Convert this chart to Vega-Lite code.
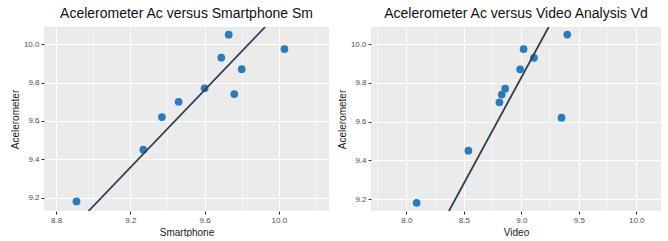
{
  "$schema": "https://vega.github.io/schema/vega-lite/v6.json",
  "background": "white",
  "padding": {"left": 10, "top": 6, "right": 10, "bottom": 0},
  "spacing": 8,
  "datasets": {
    "pts": [
      {"Ac": 9.18, "Sm": 8.91, "Vd": 8.09},
      {"Ac": 9.45, "Sm": 9.27, "Vd": 8.54},
      {"Ac": 9.62, "Sm": 9.37, "Vd": 9.35},
      {"Ac": 9.70, "Sm": 9.46, "Vd": 8.81},
      {"Ac": 9.74, "Sm": 9.76, "Vd": 8.83},
      {"Ac": 9.77, "Sm": 9.60, "Vd": 8.86},
      {"Ac": 9.87, "Sm": 9.80, "Vd": 8.99},
      {"Ac": 9.93, "Sm": 9.69, "Vd": 9.11},
      {"Ac": 9.975, "Sm": 10.03, "Vd": 9.02},
      {"Ac": 10.05, "Sm": 9.73, "Vd": 9.40}
    ],
    "lineSm": [
      {"x": 8.975, "y": 9.13},
      {"x": 9.926, "y": 10.09}
    ],
    "lineVd": [
      {"x": 8.371, "y": 9.138},
      {"x": 9.238, "y": 10.089}
    ],
    "minorVd": [
      {"v": 7.75}, {"v": 8.25}, {"v": 8.75}, {"v": 9.25}, {"v": 9.75}
    ]
  },
  "config": {
    "font": "Liberation Sans",
    "view": {"fill": "#EBEBEB", "stroke": null},
    "axis": {
      "domain": false,
      "gridColor": "white",
      "labelColor": "#4D4D4D",
      "labelFontSize": 8,
      "labelPadding": 2,
      "labelOverlap": false,
      "tickSize": 3,
      "titleFontSize": 10,
      "titleFontWeight": "normal",
      "titleColor": "#1a1a1a"
    },
    "title": {"fontSize": 14, "fontWeight": "normal", "color": "#111", "offset": 6}
  },
  "hconcat": [
    {
      "title": "Acelerometer Ac versus Smartphone Sm",
      "width": 285,
      "height": 184,
      "layer": [
        {
          "data": {"name": "pts"},
          "mark": {"type": "circle", "size": 60, "opacity": 1, "color": "#2B7BBA"},
          "encoding": {
            "x": {
              "field": "Sm", "type": "quantitative", "title": "Smartphone",
              "scale": {"domain": [8.735, 10.27], "nice": false, "zero": false},
              "axis": {
                "values": [8.8, 9.0, 9.2, 9.4, 9.6, 9.8, 10.0, 10.2],
                "labelExpr": "indexof([8.8, 9.2, 9.6, 10], datum.value) >= 0 ? format(datum.value, '.1f') : ''",
                "gridWidth": {"condition": {"test": "indexof([8.8, 9.2, 9.6, 10], datum.value) >= 0", "value": 1.1}, "value": 0.5},
                "tickColor": {"condition": {"test": "indexof([8.8, 9.2, 9.6, 10], datum.value) >= 0", "value": "#333333"}, "value": "transparent"},
                "titlePadding": 3
              }
            },
            "y": {
              "field": "Ac", "type": "quantitative", "title": "Acelerometer",
              "scale": {"domain": [9.13, 10.09], "nice": false, "zero": false},
              "axis": {
                "values": [9.2, 9.3, 9.4, 9.5, 9.6, 9.7, 9.8, 9.9, 10.0],
                "labelExpr": "indexof([9.2, 9.4, 9.6, 9.8, 10], datum.value) >= 0 ? format(datum.value, '.1f') : ''",
                "gridWidth": {"condition": {"test": "indexof([9.2, 9.4, 9.6, 9.8, 10], datum.value) >= 0", "value": 1.1}, "value": 0.5},
                "tickColor": {"condition": {"test": "indexof([9.2, 9.4, 9.6, 9.8, 10], datum.value) >= 0", "value": "#333333"}, "value": "transparent"},
                "titlePadding": 3
              }
            }
          }
        },
        {
          "data": {"name": "lineSm"},
          "mark": {"type": "line", "color": "#2C3E50", "strokeWidth": 1.8, "clip": true},
          "encoding": {
            "x": {"field": "x", "type": "quantitative"},
            "y": {"field": "y", "type": "quantitative"}
          }
        }
      ]
    },
    {
      "title": "Acelerometer Ac versus Video Analysis Vd",
      "width": 290,
      "height": 184,
      "layer": [
        {
          "data": {"name": "minorVd"},
          "mark": {"type": "rule", "color": "white", "strokeWidth": 0.5},
          "encoding": {
            "x": {"field": "v", "type": "quantitative"}
          }
        },
        {
          "data": {"name": "pts"},
          "mark": {"type": "circle", "size": 60, "opacity": 1, "color": "#2B7BBA"},
          "encoding": {
            "x": {
              "field": "Vd", "type": "quantitative", "title": "Video",
              "scale": {"domain": [7.693, 10.215], "nice": false, "zero": false},
              "axis": {
                "values": [8, 8.5, 9, 9.5, 10],
                "format": ".1f",
                "gridWidth": 1.1,
                "tickColor": "#333333",
                "titlePadding": 3
              }
            },
            "y": {
              "field": "Ac", "type": "quantitative", "title": "Acelerometer",
              "scale": {"domain": [9.138, 10.089], "nice": false, "zero": false},
              "axis": {
                "values": [9.2, 9.3, 9.4, 9.5, 9.6, 9.7, 9.8, 9.9, 10.0],
                "labelExpr": "indexof([9.2, 9.4, 9.6, 9.8, 10], datum.value) >= 0 ? format(datum.value, '.1f') : ''",
                "gridWidth": {"condition": {"test": "indexof([9.2, 9.4, 9.6, 9.8, 10], datum.value) >= 0", "value": 1.1}, "value": 0.5},
                "tickColor": {"condition": {"test": "indexof([9.2, 9.4, 9.6, 9.8, 10], datum.value) >= 0", "value": "#333333"}, "value": "transparent"},
                "titlePadding": 3
              }
            }
          }
        },
        {
          "data": {"name": "lineVd"},
          "mark": {"type": "line", "color": "#2C3E50", "strokeWidth": 1.8, "clip": true},
          "encoding": {
            "x": {"field": "x", "type": "quantitative"},
            "y": {"field": "y", "type": "quantitative"}
          }
        }
      ]
    }
  ]
}
